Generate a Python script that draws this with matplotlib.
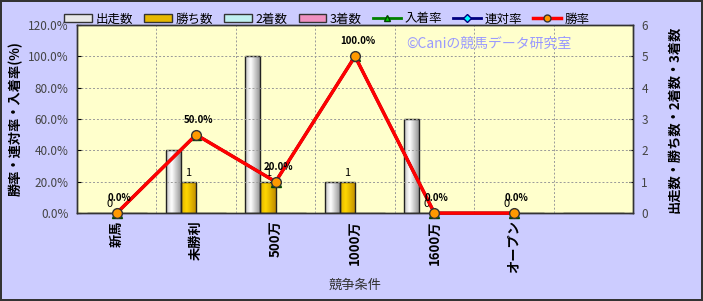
import numpy as np
import matplotlib
matplotlib.use('Agg')
import matplotlib.pyplot as plt
from matplotlib.lines import Line2D
from matplotlib.patches import Patch

plt.rcParams['font.family'] = ['Noto Sans CJK JP', 'DejaVu Sans']

## chart data
categories = ['新馬', '未勝利', '500万', '1000万', '1600万', 'オープン', '']
starts = [0, 2, 5, 1, 3, 0, 0]          # 出走数
wins = [0, 1, 1, 1, 0, 0, 0]            # 勝ち数
seconds = [0, 0, 0, 0, 0, 0, 0]         # 2着数
thirds = [0, 0, 0, 0, 0, 0, 0]          # 3着数
n_rate = 6                               # rates only for first 6 categories
win_rate = [0.0, 50.0, 20.0, 100.0, 0.0, 0.0]
rentai_rate = [0.0, 50.0, 20.0, 100.0, 0.0, 0.0]
nyuchaku_rate = [0.0, 50.0, 20.0, 100.0, 0.0, 0.0]

fig = plt.figure(figsize=(7.03, 3.01), dpi=100, facecolor='#CCCCFF',
                 edgecolor='#333333', linewidth=1.5)
ax = fig.add_axes([0.1095, 0.292, 0.791, 0.625])
ax2 = ax.twinx()

x = np.arange(len(categories))
bw = 0.19

def grad_bar(axis, xs, hs, offset, c_light, c_dark, edge):
    ## draws bars with a horizontal shaded look
    bars = axis.bar(xs + offset, hs, bw, color='none', edgecolor=edge, linewidth=1, zorder=3)
    g = np.linspace(0, 1, 64)
    g = np.abs(g - 0.35) / 0.65
    cmap = matplotlib.colors.LinearSegmentedColormap.from_list('b', [c_light, c_dark])
    for b in bars:
        if b.get_height() <= 0:
            continue
        x0, w, h = b.get_x(), b.get_width(), b.get_height()
        im = axis.imshow(g[np.newaxis, :], extent=[x0, x0 + w, 0, h], aspect='auto',
                         cmap=cmap, zorder=2.5, interpolation='bicubic')
        im.set_clip_path(b)
    return bars

grad_bar(ax2, x, starts, -1.5 * bw, '#FFFFFF', '#8C8C8C', '#222222')
grad_bar(ax2, x, wins, -0.5 * bw, '#FFD700', '#C08C00', '#222222')
grad_bar(ax2, x, seconds, 0.5 * bw, '#E0FFFF', '#80C0C0', '#222222')
grad_bar(ax2, x, thirds, 1.5 * bw, '#FFC0E0', '#D06090', '#222222')

## bar value labels (勝ち数)
for i in range(n_rate):
    ax2.text(x[i] - 0.5 * bw, wins[i] + 0.28, str(wins[i]), ha='center', va='center',
             fontsize=8, color='black', zorder=6)

ax2.set_ylim(0, 6)
ax2.set_xlim(-0.5, len(categories) - 0.5)

## rate lines on left axis, drawn above bars
ax.set_zorder(ax2.get_zorder() + 1)
ax.patch.set_visible(False)
ax2.patch.set_visible(True)
ax2.patch.set_facecolor('#FFFFCC')

xr = x[:n_rate]
ax.plot(xr, nyuchaku_rate, color='green', lw=2, marker='^', ms=7,
        mfc='#00CC00', mec='#004400', zorder=4, clip_on=False)
ax.plot(xr, rentai_rate, color='navy', lw=2, marker='D', ms=5,
        mfc='cyan', mec='navy', zorder=5, clip_on=False)
ax.plot(xr, win_rate, color='red', lw=2.5, marker='o', ms=7,
        mfc='#FF9900', mec='#333333', zorder=6, clip_on=False)
for i in range(n_rate):
    ax.text(xr[i] + 0.03, win_rate[i] + 9.5, '%.1f%%' % win_rate[i], ha='center', va='center',
            fontsize=7, fontweight='bold', color='black', zorder=7)

ax.set_ylim(0, 120)
ax.set_xlim(-0.5, len(categories) - 0.5)
ax.set_yticks(np.arange(0, 121, 20))
ax.set_yticklabels(['%.1f%%' % v for v in np.arange(0, 121, 20)], fontsize=8.5, color='#444444')
ax2.set_yticks(range(0, 7))
ax2.set_yticklabels([str(v) for v in range(0, 7)], fontsize=8.5, color='#444444')

ax.set_xticks(x)
ax.set_xticklabels(categories, rotation=90, fontsize=9.5, fontweight='bold')
ax.tick_params(axis='x', length=0, pad=5)
ax.tick_params(axis='y', length=3, direction='in', pad=6)
ax2.tick_params(axis='y', length=3, direction='in', pad=6)

## grid: vertical at category boundaries, horizontal at left ticks
for b in np.arange(0.5, len(categories) - 0.5, 1):
    ax.axvline(b, color='#999999', lw=0.7, ls=(0, (2, 2)), zorder=1)
for v in np.arange(20, 120, 20):
    ax.axhline(v, color='#999999', lw=0.7, ls=(0, (2, 2)), zorder=1)

for a in (ax, ax2):
    for s in a.spines.values():
        s.set_color('#333333')
        s.set_linewidth(1)

ax.set_ylabel('勝率・連対率・入着率(%)', fontsize=9.5, fontweight='bold', labelpad=4)
ax2.set_ylabel('出走数・勝ち数・2着数・3着数', fontsize=9.5, fontweight='bold',
               rotation=90, labelpad=14)
ax.set_xlabel('競争条件', fontsize=9.5, color='#333333', labelpad=4)

ax.text(0.74, 0.9, '©Caniの競馬データ研究室', transform=ax.transAxes, ha='center',
        va='center', fontsize=10, color='#9999FF', zorder=8)

handles = [
    Patch(facecolor='#E8E8E8', edgecolor='#333333', label='出走数'),
    Patch(facecolor='#E6B800', edgecolor='#333333', label='勝ち数'),
    Patch(facecolor='#C0F0F0', edgecolor='#333333', label='2着数'),
    Patch(facecolor='#F090C0', edgecolor='#333333', label='3着数'),
    Line2D([], [], color='green', lw=2, marker='^', ms=5, mfc='#00CC00', mec='#004400', label='入着率'),
    Line2D([], [], color='navy', lw=2, marker='D', ms=4, mfc='cyan', mec='navy', label='連対率'),
    Line2D([], [], color='red', lw=2.5, marker='o', ms=5, mfc='#FF9900', mec='#333333', label='勝率'),
]
fig.legend(handles=handles, loc='center', bbox_to_anchor=(0.465, 0.937), ncol=7,
           frameon=False, fontsize=9, handlelength=2.2, handleheight=0.6,
           columnspacing=0.9, handletextpad=0.3)

fig.savefig('out.png', dpi=100, facecolor=fig.get_facecolor(), edgecolor=fig.get_edgecolor())
